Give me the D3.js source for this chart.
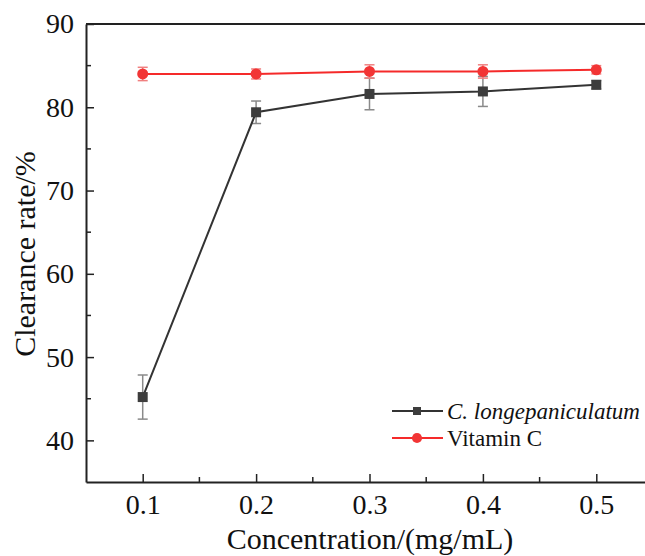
<!DOCTYPE html>
<html>
<head>
<meta charset="utf-8">
<script src="https://cdn.jsdelivr.net/npm/d3@7"></script>
<style>
  body { margin: 0; background: #fff; }
  svg { display: block; overflow: hidden; }
  svg text { font-family: "Liberation Serif", "Times New Roman", serif; }
</style>
</head>
<body>
<div id="chart"></div>
<script>
// data
var concentrations = [0.1, 0.2, 0.3, 0.4, 0.5];
var extractValues = [45.2, 79.4, 81.6, 81.9, 82.7];
var extractErrors = [2.65, 1.35, 1.9, 1.8, 0.5];
var vitcValues = [84.0, 84.0, 84.3, 84.3, 84.5];
var vitcErrors = [0.8, 0.6, 0.8, 0.8, 0.5];
var xTicks = [0.1, 0.2, 0.3, 0.4, 0.5];
var yTicks = [40, 50, 60, 70, 80, 90];
var seriesNames = ["C. longepaniculatum", "Vitamin C"];

var W = 645, H = 556;
var margin = { top: 24, right: -8, bottom: 74, left: 86 };
var width = W - margin.left - margin.right,
    height = H - margin.top - margin.bottom;

var svg = d3.select("#chart").append("svg")
  .attr("width", W)
  .attr("height", H);
var g = svg.append("g")
  .attr("transform", "translate(" + margin.left + "," + margin.top + ")");

var x = d3.scaleLinear().domain([0.05, 0.55]).range([0, width]);
var y = d3.scaleLinear().domain([35, 90]).range([height, 0]);

var font = "Liberation Serif, Times New Roman, serif";

// frame (top and right)
g.append("line").attr("x1", 0).attr("x2", width).attr("y1", 0).attr("y2", 0)
  .attr("stroke", "#222").attr("stroke-width", 2);
g.append("line").attr("x1", width).attr("x2", width).attr("y1", 0).attr("y2", height)
  .attr("stroke", "#222").attr("stroke-width", 2);

// minor ticks
var xMinor = [0.15, 0.25, 0.35, 0.45];
var yMinor = [45, 55, 65, 75, 85];
g.selectAll(".xminor").data(xMinor).enter().append("line")
  .attr("x1", function (d) { return x(d); }).attr("x2", function (d) { return x(d); })
  .attr("y1", height).attr("y2", height - 5)
  .attr("stroke", "#222").attr("stroke-width", 1.5);
g.selectAll(".yminor").data(yMinor).enter().append("line")
  .attr("x1", 0).attr("x2", 5)
  .attr("y1", function (d) { return y(d); }).attr("y2", function (d) { return y(d); })
  .attr("stroke", "#222").attr("stroke-width", 1.5);

// X axis
var xAxis = g.append("g")
  .attr("transform", "translate(0," + height + ")")
  .call(d3.axisBottom(x).tickValues(xTicks).tickSizeInner(-8).tickSizeOuter(0).tickPadding(12).tickFormat(d3.format(".1f")));
xAxis.attr("font-family", font);
xAxis.select(".domain").attr("stroke", "#222").attr("stroke-width", 2);
xAxis.selectAll(".tick line").attr("stroke", "#222").attr("stroke-width", 1.5);
xAxis.selectAll("text").style("font-family", font).style("font-size", "28px").attr("fill", "#111");

// Y axis
var yAxis = g.append("g")
  .call(d3.axisLeft(y).tickValues(yTicks).tickSizeInner(-8).tickSizeOuter(0).tickPadding(12));
yAxis.attr("font-family", font);
yAxis.select(".domain").attr("stroke", "#222").attr("stroke-width", 2);
yAxis.selectAll(".tick line").attr("stroke", "#222").attr("stroke-width", 1.5);
yAxis.selectAll("text").style("font-family", font).style("font-size", "28px").attr("fill", "#111");

// axis titles
svg.append("text")
  .attr("x", 370).attr("y", 549)
  .attr("text-anchor", "middle")
  .style("font-size", "30px").attr("fill", "#111")
  .text("Concentration/(mg/mL)");
svg.append("text")
  .attr("transform", "translate(35,254) rotate(-90)")
  .attr("text-anchor", "middle")
  .style("font-size", "30px").attr("fill", "#111")
  .text("Clearance rate/%");

// series drawing
function drawSeries(values, errors, lineColor, errColor, markerColor, marker) {
  var pts = concentrations.map(function (c, i) { return { c: c, v: values[i], e: errors[i] }; });
  var eb = g.append("g");
  pts.forEach(function (p) {
    eb.append("line")
      .attr("x1", x(p.c)).attr("x2", x(p.c))
      .attr("y1", y(p.v + p.e)).attr("y2", y(p.v - p.e))
      .attr("stroke", errColor).attr("stroke-width", 1.5);
    [p.v + p.e, p.v - p.e].forEach(function (v) {
      eb.append("line")
        .attr("x1", x(p.c) - 5).attr("x2", x(p.c) + 5)
        .attr("y1", y(v)).attr("y2", y(v))
        .attr("stroke", errColor).attr("stroke-width", 1.5);
    });
  });
  g.append("path").datum(pts)
    .attr("fill", "none").attr("stroke", lineColor).attr("stroke-width", 2)
    .attr("d", d3.line().x(function (d) { return x(d.c); }).y(function (d) { return y(d.v); }));
  g.selectAll(null).data(pts).enter().append("path")
    .attr("transform", function (d) { return "translate(" + x(d.c) + "," + y(d.v) + ")"; })
    .attr("d", d3.symbol().type(marker).size(marker === d3.symbolSquare ? 100 : 95))
    .attr("fill", markerColor);
}

drawSeries(extractValues, extractErrors, "#333", "#8a8a8a", "#3d3d3d", d3.symbolSquare);
drawSeries(vitcValues, vitcErrors, "#f52a2a", "#f08080", "#f23535", d3.symbolCircle);

// legend
var legend = svg.append("g");
var legendRows = [
  { name: seriesNames[0], color: "#333", fill: "#3d3d3d", marker: d3.symbolSquare, italic: true },
  { name: seriesNames[1], color: "#f52a2a", fill: "#f23535", marker: d3.symbolCircle, italic: false }
];
legendRows.forEach(function (r, i) {
  var ly = 411 + i * 27;
  legend.append("line").attr("x1", 392).attr("x2", 443).attr("y1", ly).attr("y2", ly)
    .attr("stroke", r.color).attr("stroke-width", 2);
  legend.append("path")
    .attr("transform", "translate(417," + ly + ")")
    .attr("d", d3.symbol().type(r.marker).size(r.marker === d3.symbolSquare ? 64 : 80))
    .attr("fill", r.fill);
  legend.append("text")
    .attr("x", 447).attr("y", ly + 8)
    .style("font-size", "23px").attr("fill", "#111")
    .attr("font-style", r.italic ? "italic" : "normal")
    .text(r.name);
});
</script>
</body>
</html>
